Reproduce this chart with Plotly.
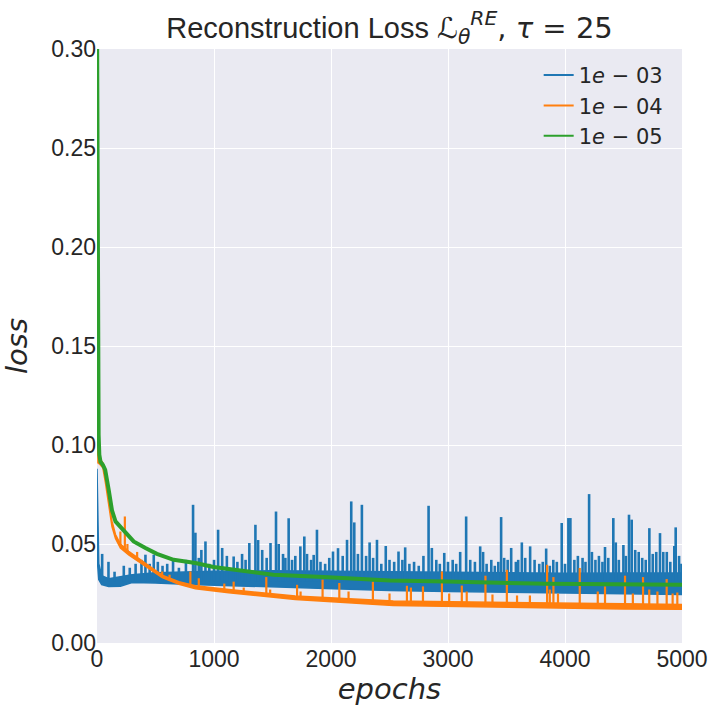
"""
Reconstruction loss curves for three learning rates (tau = 25).
Values read off the reference picture; each noisy curve is drawn as
a band (lower / upper edge) plus its visible spikes.
"""

import plotly.graph_objects as go

# --- Series labels / colours ---
SERIES_NAMES = ["1<i>e</i> − 03", "1<i>e</i> − 04", "1<i>e</i> − 05"]
COLORS = ["#1f77b4", "#ff7f0e", "#2ca02c"]

X_TICKS = [0, 1000, 2000, 3000, 4000, 5000]
Y_TICKS = [0.00, 0.05, 0.10, 0.15, 0.20, 0.25, 0.30]

# --- lr 1e-03 (blue): band edges ---
blue_band_ep = [0, 5, 15, 40, 100, 200, 300, 500, 800, 1000, 1500, 2000,
                2500, 3000, 3500, 4000, 4500, 5000]
blue_band_lo = [0.060, 0.040, 0.032, 0.0295, 0.0285, 0.0287, 0.0305, 0.0303,
                0.0296, 0.0292, 0.0282, 0.0272, 0.0265, 0.0260, 0.0257,
                0.0253, 0.0250, 0.0245]
blue_band_hi = [0.088, 0.062, 0.040, 0.034, 0.0325, 0.0335, 0.0345, 0.0355,
                0.0360, 0.0362, 0.0365, 0.0362, 0.0358, 0.0355, 0.0353,
                0.0352, 0.0353, 0.0353]

# blue spikes (epoch, peak); they rise out of the band
blue_spike_ep = [44, 98, 150, 229, 280, 330, 380, 414, 450, 485, 520, 560,
                 600, 650, 700, 760, 821, 841, 870, 892, 927, 960, 1000, 1035,
                 1070, 1110, 1168, 1200, 1240, 1270, 1302, 1354, 1377, 1412,
                 1450, 1483, 1530, 1553, 1590, 1610, 1638, 1667, 1695, 1738,
                 1772, 1795, 1830, 1852, 1880, 1910, 1950, 1985, 2017, 2060,
                 2100, 2137, 2173, 2199, 2230, 2264, 2300, 2330, 2360, 2393,
                 2430, 2468, 2500, 2540, 2577, 2610, 2634, 2670, 2710, 2750,
                 2790, 2834, 2862, 2900, 2930, 2968, 3000, 3040, 3070, 3104,
                 3155, 3190, 3230, 3275, 3300, 3330, 3370, 3400, 3430, 3454,
                 3480, 3510, 3540, 3580, 3600, 3631, 3660, 3702, 3740, 3780,
                 3810, 3839, 3870, 3900, 3930, 3972, 4000, 4029, 4046, 4080,
                 4110, 4150, 4175, 4206, 4230, 4260, 4290, 4320, 4342, 4370,
                 4413, 4434, 4460, 4499, 4520, 4547, 4570, 4600, 4630, 4660,
                 4690, 4721, 4750, 4780, 4812, 4840, 4870, 4900, 4934, 4946,
                 4975, 4995]
blue_spike_top = [0.0450, 0.0410, 0.0360, 0.0390, 0.0380, 0.0400, 0.0420,
                  0.0446, 0.0400, 0.0446, 0.0410, 0.0390, 0.0400, 0.0420,
                  0.0380, 0.0420, 0.0698, 0.0557, 0.0430, 0.0470, 0.0513,
                  0.0400, 0.0420, 0.0572, 0.0480, 0.0440, 0.0437, 0.0410,
                  0.0450, 0.0420, 0.0505, 0.0597, 0.0520, 0.0470, 0.0430,
                  0.0505, 0.0664, 0.0500, 0.0450, 0.0430, 0.0630, 0.0420,
                  0.0440, 0.0488, 0.0538, 0.0450, 0.0420, 0.0445, 0.0572,
                  0.0410, 0.0400, 0.0430, 0.0462, 0.0479, 0.0440, 0.0521,
                  0.0715, 0.0609, 0.0450, 0.0698, 0.0440, 0.0508, 0.0430,
                  0.0521, 0.0400, 0.0490, 0.0420, 0.0410, 0.0462, 0.0420,
                  0.0483, 0.0400, 0.0410, 0.0390, 0.0440, 0.0693, 0.0480,
                  0.0420, 0.0400, 0.0455, 0.0410, 0.0420, 0.0400, 0.0460,
                  0.0639, 0.0420, 0.0410, 0.0488, 0.0460, 0.0400, 0.0420,
                  0.0390, 0.0410, 0.0636, 0.0430, 0.0420, 0.0480, 0.0410,
                  0.0420, 0.0508, 0.0430, 0.0488, 0.0420, 0.0400, 0.0410,
                  0.0477, 0.0390, 0.0420, 0.0410, 0.0606, 0.0400, 0.0631,
                  0.0631, 0.0420, 0.0440, 0.0430, 0.0410, 0.0752, 0.0460,
                  0.0420, 0.0440, 0.0410, 0.0485, 0.0430, 0.0631, 0.0508,
                  0.0420, 0.0495, 0.0440, 0.0648, 0.0623, 0.0470, 0.0460,
                  0.0430, 0.0420, 0.0580, 0.0450, 0.0460, 0.0555, 0.0460,
                  0.0460, 0.0410, 0.0490, 0.0584, 0.0440, 0.0400]
BLUE_SPIKE_BASE = 0.031

# --- lr 1e-04 (orange): band edges ---
orange_band_ep = [0, 3, 8, 20, 50, 72, 100, 128, 158, 200, 271, 414, 557,
                  700, 841, 1126, 1695, 2532, 3000, 3500, 4000, 4500, 5000]
orange_band_lo = [0.160, 0.115, 0.091, 0.0905, 0.0885, 0.0810, 0.0685,
                  0.0588, 0.0528, 0.0480, 0.0445, 0.0388, 0.0330, 0.0297,
                  0.0274, 0.0254, 0.0220, 0.0190, 0.0185, 0.0180, 0.0175,
                  0.0172, 0.0170]
orange_band_hi = [0.168, 0.123, 0.096, 0.0935, 0.0910, 0.0835, 0.0715,
                  0.0615, 0.0548, 0.0500, 0.0463, 0.0402, 0.0343, 0.0310,
                  0.0289, 0.0270, 0.0238, 0.0212, 0.0208, 0.0204, 0.0200,
                  0.0198, 0.0195]

# orange spikes (epoch, peak, where the spike leaves the band)
orange_spike_ep = [200, 238, 260, 343, 557, 620, 798, 870, 1088, 1168, 1254,
                   1447, 1480, 1710, 1740, 1928, 2071, 2150, 2358, 2500, 2649,
                   2683, 2786, 2948, 3010, 3118, 3160, 3320, 3380, 3503, 3590,
                   3700, 3847, 3870, 3901, 3940, 4126, 4280, 4342, 4513, 4580,
                   4667, 4720, 4790, 4869, 4920, 4960]
orange_spike_top = [0.0563, 0.0639, 0.0500, 0.0460, 0.0361, 0.0345, 0.0361,
                    0.0327, 0.0300, 0.0310, 0.0280, 0.0333, 0.0270, 0.0294,
                    0.0260, 0.0320, 0.0303, 0.0260, 0.0310, 0.0250, 0.0289,
                    0.0280, 0.0286, 0.0361, 0.0250, 0.0290, 0.0260, 0.0340,
                    0.0245, 0.0370, 0.0240, 0.0240, 0.0395, 0.0270, 0.0333,
                    0.0250, 0.0379, 0.0260, 0.0286, 0.0340, 0.0250, 0.0333,
                    0.0270, 0.0260, 0.0323, 0.0250, 0.0255]
orange_spike_base = [0.049, 0.047, 0.046, 0.042, 0.0336, 0.032, 0.029, 0.028,
                     0.026, 0.026, 0.025, 0.024, 0.024, 0.023, 0.023, 0.022,
                     0.021, 0.021, 0.020, 0.020, 0.020, 0.020, 0.020, 0.019,
                     0.019, 0.019, 0.019, 0.019, 0.019, 0.019, 0.019, 0.018,
                     0.018, 0.018, 0.018, 0.018, 0.018, 0.018, 0.018, 0.018,
                     0.018, 0.018, 0.018, 0.018, 0.018, 0.018, 0.018]

# --- lr 1e-05 (green): smooth curve ---
green_ep = [0, 4, 8, 14, 20, 30, 50, 70, 100, 128, 158, 243, 313, 414, 512,
            655, 841, 996, 1224, 1508, 1935, 2504, 2990, 3843, 5000]
green_loss = [0.320, 0.200, 0.130, 0.105, 0.095, 0.0915, 0.0900, 0.0875,
              0.0774, 0.0670, 0.0614, 0.0557, 0.0513, 0.0480, 0.0450, 0.0420,
              0.0404, 0.0384, 0.0365, 0.0345, 0.0333, 0.0316, 0.0310, 0.0299,
              0.0294]

TEXT_COLOR = "#262626"
SANS = "Liberation Sans, Arial, sans-serif"
MATH = "DejaVu Sans, sans-serif"


def spike_segments(ep, top, base):
    """Vertical segments (epoch, base) -> (epoch, top), split by None."""
    xs, ys = [], []
    for e, t, b in zip(ep, top, base):
        xs += [e, e, None]
        ys += [b, t, None]
    return xs, ys


def add_band(fig, ep, lo, hi, color, width):
    fig.add_trace(go.Scatter(x=ep, y=lo, mode="lines", showlegend=False,
                             line=dict(color=color, width=width),
                             hoverinfo="skip"))
    fig.add_trace(go.Scatter(x=ep, y=hi, mode="lines", showlegend=False,
                             fill="tonexty", fillcolor=color,
                             line=dict(color=color, width=width),
                             hoverinfo="skip"))


fig = go.Figure()

# legend-only entries (plain line samples)
for name, color in zip(SERIES_NAMES, COLORS):
    fig.add_trace(go.Scatter(x=[None], y=[None], mode="lines", name=name,
                             line=dict(color=color, width=2)))

# blue
add_band(fig, blue_band_ep, blue_band_lo, blue_band_hi, COLORS[0], 1.5)
sx, sy = spike_segments(blue_spike_ep, blue_spike_top,
                        [BLUE_SPIKE_BASE] * len(blue_spike_ep))
fig.add_trace(go.Scatter(x=sx, y=sy, mode="lines", showlegend=False,
                         line=dict(color=COLORS[0], width=2.6)))

# orange
add_band(fig, orange_band_ep, orange_band_lo, orange_band_hi, COLORS[1], 1.5)
sx, sy = spike_segments(orange_spike_ep, orange_spike_top, orange_spike_base)
fig.add_trace(go.Scatter(x=sx, y=sy, mode="lines", showlegend=False,
                         line=dict(color=COLORS[1], width=2.2)))

# green
fig.add_trace(go.Scatter(x=green_ep, y=green_loss, mode="lines",
                         showlegend=False,
                         line=dict(color=COLORS[2], width=4)))

title_text = ("Reconstruction Loss "
              "<span style='font-family:DejaVu Sans'><i>ℒ</i>"
              "<sub><i>θ</i></sub><sup><i>RE</i></sup>, <i>τ</i> = 25</span>")

fig.update_layout(
    width=720, height=720,
    margin=dict(l=97, r=38, t=49, b=77),
    paper_bgcolor="white", plot_bgcolor="#EAEAF2",
    title=dict(text=title_text, x=0.5, xref="paper", xanchor="center",
               y=0.962, yref="container", yanchor="middle",
               font=dict(family=SANS, size=29, color=TEXT_COLOR)),
    legend=dict(x=0.755, y=0.99, xanchor="left", yanchor="top",
                traceorder="normal", bgcolor="rgba(0,0,0,0)",
                font=dict(family=MATH, size=21, color=TEXT_COLOR)),
    showlegend=True,
)
fig.update_xaxes(range=[0, 5000], tickvals=X_TICKS, showline=False,
                 zeroline=False, gridcolor="white", gridwidth=1.3,
                 automargin=False, ticks="",
                 tickfont=dict(family=SANS, size=23, color=TEXT_COLOR),
                 title=dict(text="<i>epochs</i>", standoff=6,
                            font=dict(family=MATH, size=29, color=TEXT_COLOR)))
fig.update_yaxes(range=[0, 0.30], tickvals=Y_TICKS, tickformat=".2f",
                 showline=False, zeroline=False, gridcolor="white",
                 gridwidth=1.3, automargin=False, ticks="",
                 tickfont=dict(family=SANS, size=23, color=TEXT_COLOR),
                 title=dict(text="<i>loss</i>", standoff=22,
                            font=dict(family=MATH, size=29, color=TEXT_COLOR)))

# page body margin would shift the figure by 8px
fig.write_html("out.html", config={"displayModeBar": False},
               post_script="document.body.style.margin='0';")
